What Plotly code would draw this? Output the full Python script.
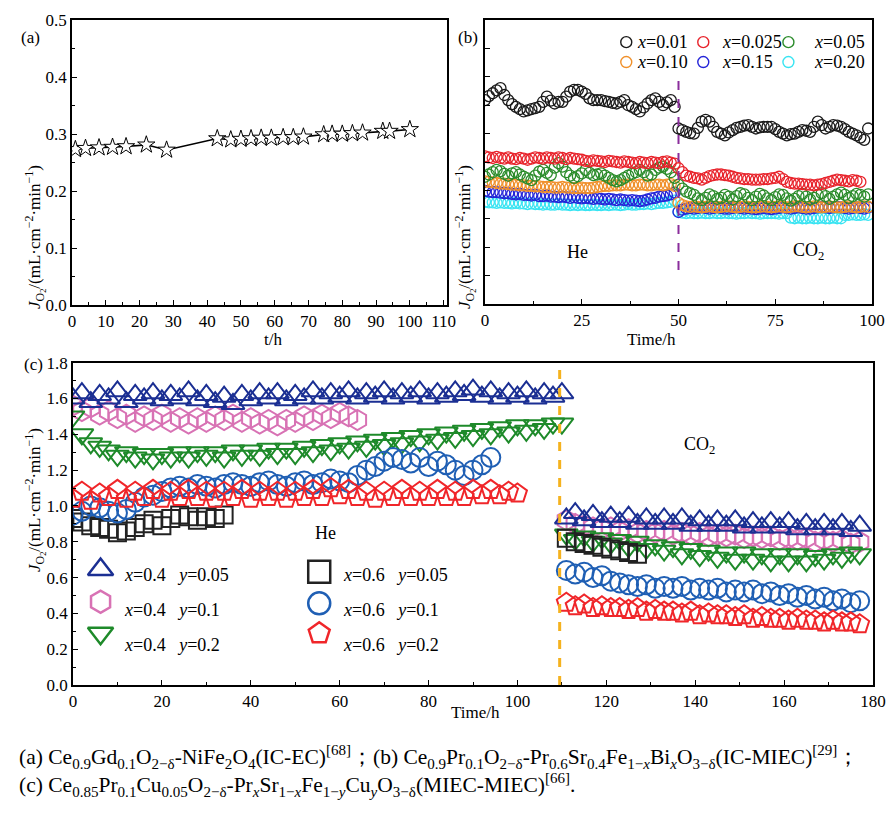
import plotly.graph_objects as go

FONT = "Liberation Serif, Times New Roman, serif"
W, H = 890, 817

# ---------------- data: panel (a) ----------------
a_time = [1, 4, 8, 12, 16, 22, 28, 43, 47, 50, 53, 56, 59, 62.5, 65.5, 68.5, 74.5, 77, 80, 83, 86, 92, 94, 100]
a_flux = [0.273, 0.275, 0.276, 0.277, 0.278, 0.281, 0.272, 0.292, 0.290, 0.291, 0.292, 0.293, 0.293, 0.294,
          0.294, 0.295, 0.299, 0.300, 0.300, 0.301, 0.302, 0.305, 0.305, 0.308]

# ---------------- data: panel (b) (He: 0-49 h, CO2: 50-99 h, 1 h interval) ----------------
b_labels = ["x=0.01", "x=0.025", "x=0.05", "x=0.10", "x=0.15", "x=0.20"]
b_he_x001 = [0.359, 0.366, 0.371, 0.376, 0.380, 0.368, 0.359, 0.352, 0.347, 0.343, 0.339, 0.341, 0.343, 0.345, 0.347,
             0.356, 0.365, 0.358, 0.353, 0.356, 0.356, 0.365, 0.374, 0.377, 0.377, 0.374, 0.370, 0.362, 0.359, 0.359,
             0.359, 0.357, 0.356, 0.354, 0.353, 0.356, 0.359, 0.350, 0.347, 0.343, 0.339, 0.346, 0.353, 0.359, 0.362,
             0.356, 0.350, 0.355, 0.359, 0.347]
b_co2_x001 = [0.309, 0.306, 0.303, 0.301, 0.300, 0.310, 0.321, 0.324, 0.321, 0.312, 0.303, 0.300, 0.297, 0.302, 0.306,
              0.310, 0.312, 0.314, 0.315, 0.312, 0.309, 0.311, 0.312, 0.312, 0.312, 0.308, 0.303, 0.300, 0.297, 0.299,
              0.300, 0.303, 0.306, 0.305, 0.303, 0.312, 0.321, 0.315, 0.309, 0.312, 0.315, 0.314, 0.312, 0.308, 0.303,
              0.300, 0.297, 0.293, 0.289, 0.309]
b_he_x0025 = [0.260, 0.258, 0.257, 0.259, 0.257, 0.256, 0.258, 0.256, 0.255, 0.257, 0.256, 0.254, 0.256, 0.258, 0.257,
              0.256, 0.258, 0.257, 0.256, 0.258, 0.257, 0.255, 0.257, 0.256, 0.255, 0.254, 0.252, 0.251, 0.253, 0.252,
              0.251, 0.250, 0.252, 0.251, 0.250, 0.249, 0.251, 0.250, 0.249, 0.248, 0.250, 0.249, 0.248, 0.250, 0.249,
              0.248, 0.250, 0.251, 0.249, 0.247]
b_co2_x0025 = [0.239, 0.232, 0.226, 0.224, 0.222, 0.221, 0.219, 0.222, 0.225, 0.227, 0.228, 0.228, 0.227, 0.226, 0.224,
               0.222, 0.221, 0.220, 0.220, 0.219, 0.219, 0.219, 0.220, 0.220, 0.221, 0.222, 0.224, 0.220, 0.215, 0.213,
               0.212, 0.212, 0.211, 0.210, 0.210, 0.209, 0.210, 0.211, 0.213, 0.215, 0.217, 0.219, 0.218, 0.217, 0.216,
               0.218, 0.217, 0.215]
b_he_x005 = [0.224, 0.228, 0.232, 0.236, 0.234, 0.229, 0.226, 0.230, 0.232, 0.228, 0.224, 0.221, 0.218, 0.226, 0.233,
             0.236, 0.231, 0.227, 0.240, 0.248, 0.242, 0.232, 0.226, 0.222, 0.225, 0.230, 0.236, 0.231, 0.227, 0.228,
             0.230, 0.226, 0.222, 0.218, 0.216, 0.218, 0.222, 0.226, 0.229, 0.232, 0.236, 0.232, 0.226, 0.228, 0.236,
             0.240, 0.242, 0.238, 0.232, 0.222]
b_co2_x005 = [0.210, 0.203, 0.198, 0.195, 0.192, 0.186, 0.183, 0.187, 0.193, 0.190, 0.185, 0.187, 0.192, 0.189, 0.184,
              0.190, 0.195, 0.193, 0.187, 0.183, 0.189, 0.194, 0.191, 0.186, 0.183, 0.188, 0.193, 0.192, 0.186, 0.182,
              0.185, 0.190, 0.194, 0.189, 0.184, 0.187, 0.192, 0.195, 0.190, 0.185, 0.189, 0.193, 0.196, 0.192, 0.187,
              0.190, 0.194, 0.192, 0.189, 0.193]
b_he_x010 = [0.216, 0.215, 0.214, 0.213, 0.212, 0.212, 0.211, 0.210, 0.210, 0.209, 0.209, 0.208, 0.208, 0.207, 0.207,
             0.206, 0.206, 0.206, 0.205, 0.205, 0.206, 0.205, 0.205, 0.204, 0.204, 0.205, 0.204, 0.204, 0.205, 0.206,
             0.207, 0.208, 0.208, 0.209, 0.209, 0.209, 0.210, 0.210, 0.209, 0.209, 0.210, 0.210, 0.209, 0.209, 0.210,
             0.210, 0.209, 0.210, 0.211, 0.208]
b_co2_x010 = [0.178, 0.174, 0.172, 0.171, 0.172, 0.171, 0.170, 0.171, 0.172, 0.171, 0.170, 0.171, 0.172, 0.172, 0.171,
              0.170, 0.171, 0.172, 0.171, 0.170, 0.170, 0.171, 0.172, 0.171, 0.170, 0.171, 0.172, 0.171, 0.170, 0.171,
              0.172, 0.172, 0.171, 0.170, 0.171, 0.172, 0.171, 0.170, 0.171, 0.172, 0.171, 0.170, 0.170, 0.171, 0.172,
              0.171, 0.170, 0.171, 0.172, 0.171]
b_he_x015 = [0.199, 0.198, 0.197, 0.197, 0.196, 0.195, 0.195, 0.194, 0.193, 0.194, 0.192, 0.192, 0.191, 0.192, 0.190,
             0.190, 0.191, 0.189, 0.189, 0.188, 0.189, 0.188, 0.187, 0.188, 0.187, 0.186, 0.187, 0.186, 0.185, 0.186,
             0.185, 0.184, 0.185, 0.184, 0.183, 0.184, 0.183, 0.182, 0.183, 0.182, 0.181, 0.182, 0.184, 0.186, 0.187,
             0.189, 0.190, 0.191, 0.193, 0.196]
b_co2_x015 = [0.162, 0.166, 0.168, 0.169, 0.168, 0.169, 0.170, 0.169, 0.168, 0.169, 0.170, 0.169, 0.168, 0.168, 0.169,
              0.170, 0.169, 0.168, 0.169, 0.168, 0.167, 0.168, 0.169, 0.168, 0.167, 0.168, 0.169, 0.170, 0.169, 0.168,
              0.169, 0.170, 0.169, 0.168, 0.168, 0.169, 0.170, 0.171, 0.170, 0.169, 0.170, 0.171, 0.170, 0.169, 0.168,
              0.169, 0.170, 0.169, 0.168, 0.170]
b_he_x020 = [0.180, 0.179, 0.179, 0.178, 0.179, 0.178, 0.178, 0.177, 0.178, 0.177, 0.177, 0.176, 0.177, 0.176, 0.176,
             0.175, 0.176, 0.175, 0.175, 0.176, 0.175, 0.175, 0.174, 0.175, 0.174, 0.175, 0.174, 0.174, 0.175, 0.174,
             0.174, 0.175, 0.174, 0.175, 0.175, 0.174, 0.175, 0.176, 0.175, 0.175, 0.176, 0.176, 0.177, 0.176, 0.177,
             0.178, 0.178, 0.179, 0.180, 0.182]
b_co2_x020 = [0.163, 0.161, 0.160, 0.161, 0.160, 0.160, 0.161, 0.160, 0.160, 0.161, 0.160, 0.160, 0.161, 0.160, 0.160,
              0.159, 0.160, 0.160, 0.161, 0.160, 0.160, 0.159, 0.160, 0.160, 0.160, 0.160, 0.159, 0.160, 0.160, 0.152,
              0.151, 0.152, 0.151, 0.151, 0.152, 0.151, 0.151, 0.152, 0.151, 0.151, 0.152, 0.151, 0.151, 0.157, 0.157,
              0.158, 0.157, 0.157, 0.158, 0.157]
b_he_start, b_co2_start, b_step = 0, 50, 1
b_switch_time = 50

# ---------------- data: panel (c) (He from 0 h, CO2 from 111 h, 2 h interval) ----------------
c_labels = ["x=0.4 y=0.05", "x=0.4 y=0.1", "x=0.4 y=0.2", "x=0.6 y=0.05", "x=0.6 y=0.1", "x=0.6 y=0.2"]
c_he_tri = [1.60, 1.63, 1.58, 1.62, 1.60, 1.64, 1.58, 1.62, 1.60, 1.63, 1.59, 1.62, 1.60, 1.64, 1.59, 1.62, 1.58, 1.61,
            1.57, 1.62, 1.59, 1.63, 1.60, 1.63, 1.59, 1.62, 1.60, 1.64, 1.60, 1.63, 1.61, 1.64, 1.60, 1.63, 1.61, 1.64,
            1.60, 1.63, 1.61, 1.64, 1.60, 1.63, 1.61, 1.64, 1.62, 1.65, 1.61, 1.64, 1.60, 1.63, 1.61, 1.64, 1.60, 1.63,
            1.61, 1.63]
c_co2_tri = [0.93, 0.96, 0.92, 0.95, 0.91, 0.94, 0.91, 0.94, 0.90, 0.93, 0.90, 0.93, 0.90, 0.93, 0.89, 0.92, 0.89, 0.92,
             0.89, 0.92, 0.88, 0.91, 0.88, 0.91, 0.88, 0.91, 0.87, 0.90, 0.87, 0.90, 0.87, 0.90, 0.86, 0.89]
c_he_hex = [1.56, 1.53, 1.55, 1.51, 1.53, 1.49, 1.51, 1.47, 1.50, 1.48, 1.51, 1.47, 1.49, 1.46, 1.49, 1.47, 1.50, 1.48,
            1.51, 1.47, 1.49, 1.46, 1.48, 1.45, 1.48, 1.47, 1.50, 1.48, 1.51, 1.49, 1.52, 1.50, 1.48]
c_co2_hex = [0.92, 0.90, 0.89, 0.88, 0.87, 0.88, 0.86, 0.87, 0.85, 0.86, 0.85, 0.86, 0.84, 0.85, 0.84, 0.85, 0.83, 0.84,
             0.83, 0.84, 0.82, 0.83, 0.82, 0.83, 0.81, 0.82, 0.81, 0.82, 0.80, 0.81, 0.80, 0.81, 0.79, 0.80]
c_he_dtri = [1.50, 1.40, 1.35, 1.33, 1.31, 1.28, 1.30, 1.27, 1.29, 1.26, 1.29, 1.27, 1.30, 1.27, 1.30, 1.28, 1.30, 1.27,
             1.31, 1.28, 1.31, 1.28, 1.32, 1.29, 1.32, 1.29, 1.33, 1.30, 1.34, 1.31, 1.35, 1.32, 1.36, 1.33, 1.37, 1.34,
             1.38, 1.35, 1.39, 1.36, 1.40, 1.37, 1.41, 1.38, 1.42, 1.39, 1.43, 1.40, 1.44, 1.41, 1.45, 1.42, 1.45, 1.43,
             1.46, 1.46]
c_co2_dtri = [0.84, 0.81, 0.83, 0.80, 0.82, 0.79, 0.81, 0.77, 0.80, 0.76, 0.78, 0.75, 0.77, 0.73, 0.76, 0.72, 0.75, 0.71,
              0.74, 0.70, 0.74, 0.70, 0.73, 0.69, 0.73, 0.69, 0.73, 0.69, 0.72, 0.70, 0.73, 0.71, 0.74, 0.73]
c_he_sq = [0.93, 0.91, 0.89, 0.88, 0.87, 0.85, 0.86, 0.88, 0.90, 0.92, 0.89, 0.93, 0.95, 0.94, 0.92, 0.94, 0.93, 0.95]
c_co2_sq = [0.82, 0.80, 0.79, 0.78, 0.77, 0.76, 0.75, 0.74, 0.73]
c_he_circ = [0.95, 0.97, 1.00, 0.99, 0.97, 0.96, 0.98, 1.02, 1.05, 1.06, 1.08, 1.10, 1.11, 1.10, 1.12, 1.11, 1.10, 1.12,
             1.13, 1.12, 1.11, 1.13, 1.14, 1.12, 1.11, 1.13, 1.14, 1.12, 1.13, 1.15, 1.14, 1.13, 1.17, 1.20, 1.22, 1.25,
             1.27, 1.26, 1.24, 1.27, 1.22, 1.25, 1.23, 1.20, 1.17, 1.20, 1.23, 1.27]
c_co2_circ = [0.64, 0.62, 0.63, 0.60, 0.61, 0.58, 0.57, 0.56, 0.55, 0.56, 0.54, 0.55, 0.54, 0.55, 0.53, 0.54, 0.53, 0.54,
              0.52, 0.53, 0.52, 0.53, 0.51, 0.52, 0.50, 0.51, 0.49, 0.50, 0.48, 0.49, 0.47, 0.48, 0.46, 0.47]
c_he_pent = [1.04, 1.08, 1.03, 1.07, 1.05, 1.09, 1.04, 1.08, 1.05, 1.09, 1.04, 1.08, 1.05, 1.09, 1.05, 1.08, 1.04, 1.08,
             1.05, 1.09, 1.04, 1.08, 1.05, 1.08, 1.04, 1.08, 1.05, 1.09, 1.05, 1.10, 1.06, 1.09, 1.05, 1.08, 1.04, 1.08,
             1.05, 1.09, 1.05, 1.08, 1.05, 1.09, 1.05, 1.08, 1.05, 1.09, 1.06, 1.09, 1.06, 1.08, 1.07]
c_co2_pent = [0.46, 0.44, 0.45, 0.43, 0.44, 0.43, 0.43, 0.42, 0.43, 0.41, 0.42, 0.41, 0.41, 0.40, 0.41, 0.39, 0.40, 0.39,
              0.39, 0.38, 0.39, 0.37, 0.38, 0.37, 0.37, 0.36, 0.37, 0.36, 0.36, 0.35, 0.36, 0.35, 0.35, 0.34]
c_he_start, c_co2_start, c_step = 0, 111, 2
c_switch_time = 109.5


def times(start, step, vals):
    return [start + step * i for i in range(len(vals))]


def pxx(x):
    return x / W


def pyy(y):
    return 1 - y / H


fig = go.Figure()

# ---- panel (a)
fig.add_trace(go.Scatter(
    x=a_time, y=a_flux, mode="lines+markers", xaxis="x", yaxis="y",
    line=dict(color="black", width=1.6),
    marker=dict(symbol="star", size=13, color="white", line=dict(color="black", width=1)),
    showlegend=False))

# ---- panel (b)
b_colors = ["#1a1a1a", "#e8232b", "#2b8c2b", "#f0902a", "#2424d8", "#38e4f2"]
b_he = [b_he_x001, b_he_x0025, b_he_x005, b_he_x010, b_he_x015, b_he_x020]
b_co2 = [b_co2_x001, b_co2_x0025, b_co2_x005, b_co2_x010, b_co2_x015, b_co2_x020]
for order in [5, 4, 3, 2, 1, 0]:
    for seg, start in ((b_he[order], b_he_start), (b_co2[order], b_co2_start)):
        fig.add_trace(go.Scatter(
            x=times(start, b_step, seg), y=seg, mode="markers", xaxis="x2", yaxis="y2",
            marker=dict(symbol="circle-open", size=11, color=b_colors[order], line=dict(width=1.3)),
            showlegend=False))

# legend keys of (b), placed in the panel's own coordinates
b_leg_pos = [(36.5, 0.461), (56.4, 0.461), (78.4, 0.461), (36.5, 0.426), (56.4, 0.426), (78.4, 0.426)]
b_leg_text_x = [38.8, 60.6, 84.6, 38.8, 60.6, 84.6]
for i, (lx, ly) in enumerate(b_leg_pos):
    fig.add_trace(go.Scatter(
        x=[lx], y=[ly], mode="markers", xaxis="x2", yaxis="y2",
        marker=dict(symbol="circle-open", size=11, color=b_colors[i], line=dict(width=1.4)),
        showlegend=False, hoverinfo="skip"))

# ---- panel (c)
c_colors = {"tri": "#1b2f93", "hex": "#d872b4", "dtri": "#1e8a2a", "sq": "#222222", "circ": "#1f5fb4", "pent": "#f0262a"}
c_symbols = {"tri": "triangle-up-open", "hex": "hexagon-open", "dtri": "triangle-down-open",
             "sq": "square-open", "circ": "circle-open", "pent": "pentagon-open"}
c_sizes = {"tri": 20, "hex": 20, "dtri": 20, "sq": 17, "circ": 19, "pent": 20}
c_series = [("hex", c_he_hex, c_co2_hex), ("dtri", c_he_dtri, c_co2_dtri), ("sq", c_he_sq, c_co2_sq),
            ("circ", c_he_circ, c_co2_circ), ("pent", c_he_pent, c_co2_pent), ("tri", c_he_tri, c_co2_tri)]
for key, he, co2 in c_series:
    for seg, start in ((he, c_he_start), (co2, c_co2_start)):
        fig.add_trace(go.Scatter(
            x=times(start, c_step, seg), y=seg, mode="markers", xaxis="x3", yaxis="y3",
            marker=dict(symbol=c_symbols[key], size=c_sizes[key], color=c_colors[key], line=dict(width=2)),
            showlegend=False))

# legend keys of (c)
sp = "\u00a0\u00a0\u00a0"
c_leg = [("tri", 6.2, 0.645, "<i>x</i>=0.4" + sp + "<i>y</i>=0.05", 0.614),
         ("hex", 6.2, 0.465, "<i>x</i>=0.4" + sp + "<i>y</i>=0.1", 0.419),
         ("dtri", 6.2, 0.289, "<i>x</i>=0.4" + sp + "<i>y</i>=0.2", 0.223),
         ("sq", 55.4, 0.633, "<i>x</i>=0.6" + sp + "<i>y</i>=0.05", 0.614),
         ("circ", 55.4, 0.456, "<i>x</i>=0.6" + sp + "<i>y</i>=0.1", 0.419),
         ("pent", 55.4, 0.289, "<i>x</i>=0.6" + sp + "<i>y</i>=0.2", 0.223)]
for key, lx, ly, _, _ in c_leg:
    fig.add_trace(go.Scatter(
        x=[lx], y=[ly], mode="markers", xaxis="x3", yaxis="y3",
        marker=dict(symbol=c_symbols[key], size=22, color=c_colors[key], line=dict(width=2.5)),
        showlegend=False, hoverinfo="skip"))

tick_font = dict(family=FONT, size=17, color="black")
ax_common = dict(showline=True, linecolor="black", linewidth=1.6, mirror=True, ticks="inside",
                 tickcolor="black", ticklen=5, tickwidth=1.3, showgrid=False, zeroline=False,
                 tickfont=tick_font, automargin=False)

fig.update_layout(
    template="none",
    width=W, height=H, margin=dict(l=0, r=0, t=0, b=0, pad=0), autosize=False,
    paper_bgcolor="white", plot_bgcolor="white",
    font=dict(family=FONT, size=17, color="black"),
    xaxis=dict(domain=[72 / W, 447 / W], range=[0, 111], tickmode="array", tickvals=list(range(0, 111, 10)),
               minor=dict(ticks="inside", ticklen=3, tickcolor="black", dtick=5, tick0=0), anchor="y", **ax_common),
    yaxis=dict(domain=[pyy(305), pyy(20)], range=[0, 0.5], dtick=0.1, tickformat=".1f",
               minor=dict(ticks="inside", ticklen=3, tickcolor="black", dtick=0.05), anchor="x", **ax_common),
    xaxis2=dict(domain=[485 / W, 872 / W], range=[0, 100], dtick=25,
                minor=dict(ticks="inside", ticklen=3, tickcolor="black", dtick=12.5), anchor="y2", **ax_common),
    yaxis2=dict(domain=[pyy(304), pyy(20)], range=[0, 0.5], dtick=0.05, showticklabels=False,
                anchor="x2", **ax_common),
    xaxis3=dict(domain=[73 / W, 873 / W], range=[0, 180], dtick=20,
                minor=dict(ticks="inside", ticklen=3, tickcolor="black", dtick=10), anchor="y3", **ax_common),
    yaxis3=dict(domain=[pyy(685), pyy(362.7)], range=[0, 1.8], dtick=0.2, tickformat=".1f",
                minor=dict(ticks="inside", ticklen=3, tickcolor="black", dtick=0.1), anchor="x3", **ax_common),
)

# switch lines
fig.add_shape(type="line", xref="x2", yref="y2", x0=b_switch_time, x1=b_switch_time, y0=0.06, y1=0.394,
              line=dict(color="#8a2d9c", width=2, dash="dash"))
fig.add_shape(type="line", xref="x3", yref="y3", x0=c_switch_time, x1=c_switch_time, y0=0, y1=1.8,
              line=dict(color="#f5b21e", width=3, dash="dash"))

ann = []
ylab = "<i>J</i><sub>O<sub>2</sub></sub>/(mL·cm<sup>−2</sup>·min<sup>−1</sup>)"
for (x, y) in [(20, 163), (465, 163), (20, 500)]:
    ann.append(dict(x=pxx(x), y=pyy(y), xref="paper", yref="paper", text=ylab, textangle=-90,
                    showarrow=False, font=dict(family=FONT, size=17)))
ann.append(dict(x=pxx(262), y=pyy(340), xref="paper", yref="paper", text="t/h", showarrow=False,
                font=dict(family=FONT, size=17)))
ann.append(dict(x=pxx(678), y=pyy(340), xref="paper", yref="paper", text="Time/h", showarrow=False,
                font=dict(family=FONT, size=17)))
ann.append(dict(x=pxx(475), y=pyy(724), xref="paper", yref="paper", text="Time/h", showarrow=False,
                font=dict(family=FONT, size=17)))
for (t, x, y) in [("(a)", 19, 26), ("(b)", 468, 26), ("(c)", 22, 365)]:
    ann.append(dict(x=pxx(x), y=pyy(y), xref="paper", yref="paper", text=t, showarrow=False,
                    font=dict(family=FONT, size=17)))
# (b) legend labels
for i, lab in enumerate(b_labels):
    ann.append(dict(x=b_leg_text_x[i], y=b_leg_pos[i][1], xref="x2", yref="y2", xanchor="left",
                    text="<i>x</i>=" + lab.split("=")[1], showarrow=False, font=dict(family=FONT, size=18)))
# (c) legend labels
for key, lx, ly, txt, ty in c_leg:
    ann.append(dict(x=lx + 4.8, y=ty, xref="x3", yref="y3", xanchor="left", text=txt, showarrow=False,
                    font=dict(family=FONT, size=18)))
# gas labels
ann.append(dict(x=24, y=0.092, xref="x2", yref="y2", text="He", showarrow=False, font=dict(family=FONT, size=18)))
ann.append(dict(x=83.5, y=0.092, xref="x2", yref="y2", text="CO<sub>2</sub>", showarrow=False,
                font=dict(family=FONT, size=18)))
ann.append(dict(x=56.7, y=0.85, xref="x3", yref="y3", text="He", showarrow=False, font=dict(family=FONT, size=18)))
ann.append(dict(x=141, y=1.34, xref="x3", yref="y3", text="CO<sub>2</sub>", showarrow=False,
                font=dict(family=FONT, size=18)))
# caption
cap1 = ("(a) Ce<sub>0.9</sub>Gd<sub>0.1</sub>O<sub>2−δ</sub>-NiFe<sub>2</sub>O<sub>4</sub>(IC-EC)<sup>[68]</sup>；"
        "(b) Ce<sub>0.9</sub>Pr<sub>0.1</sub>O<sub>2−δ</sub>-Pr<sub>0.6</sub>Sr<sub>0.4</sub>Fe<sub>1−<i>x</i></sub>"
        "Bi<sub><i>x</i></sub>O<sub>3−δ</sub>(IC-MIEC)<sup>[29]</sup>；")
cap2 = ("(c) Ce<sub>0.85</sub>Pr<sub>0.1</sub>Cu<sub>0.05</sub>O<sub>2−δ</sub>-Pr<sub><i>x</i></sub>"
        "Sr<sub>1−<i>x</i></sub>Fe<sub>1−<i>y</i></sub>Cu<sub><i>y</i></sub>O<sub>3−δ</sub>(MIEC-MIEC)<sup>[66]</sup>.")
ann.append(dict(x=pxx(17), y=pyy(774), xref="paper", yref="paper", xanchor="left", text=cap1, showarrow=False,
                font=dict(family=FONT, size=21.5)))
ann.append(dict(x=pxx(17), y=pyy(802), xref="paper", yref="paper", xanchor="left", text=cap2, showarrow=False,
                font=dict(family=FONT, size=21.5)))
fig.update_layout(annotations=ann)

fig.write_html("out.html", config={"displayModeBar": False},
               post_script="document.body.style.margin='0';document.body.style.overflow='hidden';")
